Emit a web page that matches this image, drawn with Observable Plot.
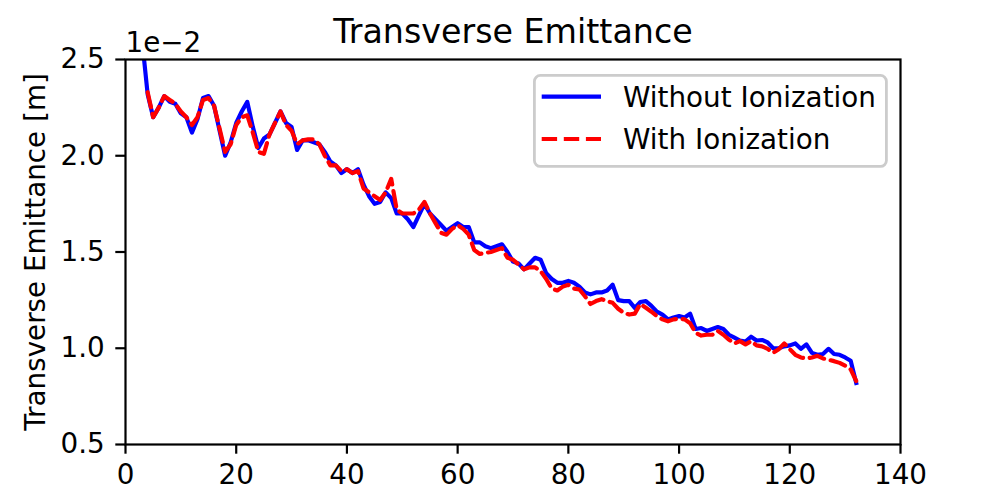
<!DOCTYPE html>
<html>
<head>
<meta charset="utf-8">
<script src="https://cdn.jsdelivr.net/npm/d3@7"></script>
<script src="https://cdn.jsdelivr.net/npm/@observablehq/plot@0.6"></script>
<style>
  html, body { margin: 0; padding: 0; background: white; }
  #wrap { position: relative; width: 1000px; height: 500px; font-family: 'DejaVu Sans', sans-serif; }
  #legend { position: absolute; left: 533px; top: 74px; }
</style>
</head>
<body>
<div id="wrap"><div id="chart"></div><div id="legend"></div></div>
<script>
const steps = [3,4,5,6,7,8,9,10,11,12,13,14,15,16,17,18,19,20,21,22,23,24,25,26,27,28,29,30,
  31,32,33,34,35,36,37,38,39,40,41,42,43,44,45,46,47,48,49,50,51,52,53,54,55,56,57,58,59,60,
  61,62,63,64,65,66,67,68,69,70,71,72,73,74,75,76,77,78,79,80,81,82,83,84,85,86,87,88,89,90,
  91,92,93,94,95,96,97,98,99,100,101,102,103,104,105,106,107,108,109,110,111,112,113,114,115,
  116,117,118,119,120,121,122,123,124,125,126,127,128,129,130,131,132];

// values in units of 1e-2 m
const withoutIonization = [2.60,2.32,2.20,2.25,2.31,2.28,2.27,2.22,2.20,2.12,2.19,2.30,2.31,2.26,2.13,2.00,2.07,2.17,2.23,2.28,2.15,2.04,2.09,2.11,2.17,2.23,2.17,2.15,
  2.03,2.08,2.08,2.07,2.06,2.02,1.97,1.95,1.91,1.93,1.91,1.93,1.85,1.79,1.75,1.76,1.81,1.78,1.70,1.70,1.67,1.63,1.69,1.75,1.70,1.67,1.64,1.61,1.63,1.65,
  1.63,1.63,1.55,1.55,1.53,1.52,1.53,1.54,1.50,1.45,1.44,1.41,1.44,1.47,1.46,1.39,1.36,1.34,1.34,1.35,1.34,1.32,1.29,1.28,1.29,1.29,1.30,1.33,1.25,1.245,
  1.245,1.21,1.24,1.245,1.22,1.19,1.175,1.15,1.16,1.167,1.16,1.18,1.10,1.105,1.09,1.10,1.11,1.10,1.07,1.055,1.04,1.035,1.06,1.04,1.043,
  1.03,1.00,1.00,1.01,1.015,1.025,0.997,1.02,0.976,0.966,0.97,0.997,0.97,0.966,0.952,0.935,0.82];

const withIonization = [null,2.33,2.20,2.25,2.31,2.29,2.27,2.23,2.20,2.16,2.20,2.29,2.30,2.26,2.14,2.02,2.06,2.16,2.20,2.21,2.12,2.02,2.01,2.11,2.17,2.23,2.16,2.13,
  2.06,2.08,2.085,2.085,2.06,2.00,1.95,1.95,1.92,1.93,1.91,1.92,1.83,1.81,1.79,1.77,1.81,1.88,1.72,1.70,1.70,1.70,1.72,1.76,1.70,1.65,1.60,1.59,1.62,1.64,
  1.62,1.59,1.51,1.49,1.495,1.50,1.51,1.52,1.47,1.46,1.435,1.41,1.42,1.42,1.40,1.36,1.31,1.30,1.32,1.33,1.31,1.305,1.27,1.23,1.245,1.255,1.245,1.236,1.205,1.184,
  1.175,1.18,1.23,1.21,1.19,1.167,1.15,1.14,1.15,1.153,1.15,1.13,1.08,1.066,1.07,1.07,1.09,1.07,1.045,1.025,1.037,1.02,1.037,1.015,1.01,
  0.997,0.976,0.995,1.025,0.995,0.966,0.952,0.947,0.952,0.961,0.947,0.94,0.933,0.924,0.91,0.89,0.83];

const seriesNames = ["Without Ionization", "With Ionization"];
const seriesColors = ["#0000ff", "#ff0000"];
const xTicks = [0, 20, 40, 60, 80, 100, 120, 140];
const xTickLabels = ["0", "20", "40", "60", "80", "100", "120", "140"];
const yTicks = [0.5, 1.0, 1.5, 2.0, 2.5];
const yTickLabels = ["0.5", "1.0", "1.5", "2.0", "2.5"];
const titleText = "Transverse Emittance";
const yLabelText = "Transverse Emittance [m]";
const offsetText = "1e\u22122";

const rows = steps.map((s, i) => ({step: s, without: withoutIonization[i], with: withIonization[i]}));

const chart = Plot.plot({
  width: 1000,
  height: 500,
  marginLeft: 125,
  marginRight: 100,
  marginTop: 59,
  marginBottom: 56,
  style: {fontFamily: "'DejaVu Sans', sans-serif", fontSize: "27.8px", background: "white", color: "black", overflow: "visible"},
  x: {domain: [0, 140]},
  y: {domain: [0.5, 2.5]},
  marks: [
    Plot.axisX({ticks: xTicks, tickFormat: d => xTickLabels[xTicks.indexOf(d)], tickSize: 9.7, tickPadding: 9.7, strokeWidth: 2.2, label: null, fontSize: 27.8}),
    Plot.axisY({ticks: yTicks, tickFormat: d => yTickLabels[yTicks.indexOf(d)], tickSize: 9.7, tickPadding: 11, strokeWidth: 2.2, label: null, fontSize: 27.8}),
    Plot.line(rows, {x: "step", y: "without", stroke: seriesColors[0], strokeWidth: 4.17, strokeLinejoin: "round", strokeLinecap: "square", clip: true}),
    Plot.line(rows, {x: "step", y: "with", stroke: seriesColors[1], strokeWidth: 4.17, strokeLinejoin: "round", strokeDasharray: "15.4,6.7", clip: true}),
    Plot.frame({stroke: "black", strokeWidth: 2.2}),
    Plot.text([titleText], {frameAnchor: "top", text: d => d, dy: -16.7, lineAnchor: "bottom", fontSize: 33.3}),
    Plot.text([offsetText], {frameAnchor: "top-left", text: d => d, textAnchor: "start", lineAnchor: "bottom", dy: -7.6, fontSize: 27.8}),
    Plot.text([yLabelText], {frameAnchor: "left", text: d => d, rotate: -90, dx: -81, lineAnchor: "bottom", textAnchor: "middle", fontSize: 27.8})
  ]
});
document.getElementById("chart").appendChild(chart);

// legend
const lg = d3.select("#legend").append("svg")
  .attr("width", 356).attr("height", 95)
  .style("font-family", "'DejaVu Sans', sans-serif");
lg.append("rect").attr("x", 1.4).attr("y", 1.4).attr("width", 352).attr("height", 91)
  .attr("rx", 6).attr("ry", 6)
  .attr("fill", "rgba(255,255,255,0.8)").attr("stroke", "#cccccc").attr("stroke-width", 2.8);
const rowsY = [22.7, 65];
seriesNames.forEach((name, i) => {
  lg.append("line").attr("x1", 8.7).attr("x2", 68).attr("y1", rowsY[i]).attr("y2", rowsY[i])
    .attr("stroke", seriesColors[i]).attr("stroke-width", 4.17)
    .attr("stroke-dasharray", i === 1 ? "15.4,6.7" : null);
  lg.append("text").attr("x", 90).attr("y", rowsY[i] + 10)
    .attr("font-size", 27.8).attr("fill", "black").text(name);
});
</script>
</body>
</html>
